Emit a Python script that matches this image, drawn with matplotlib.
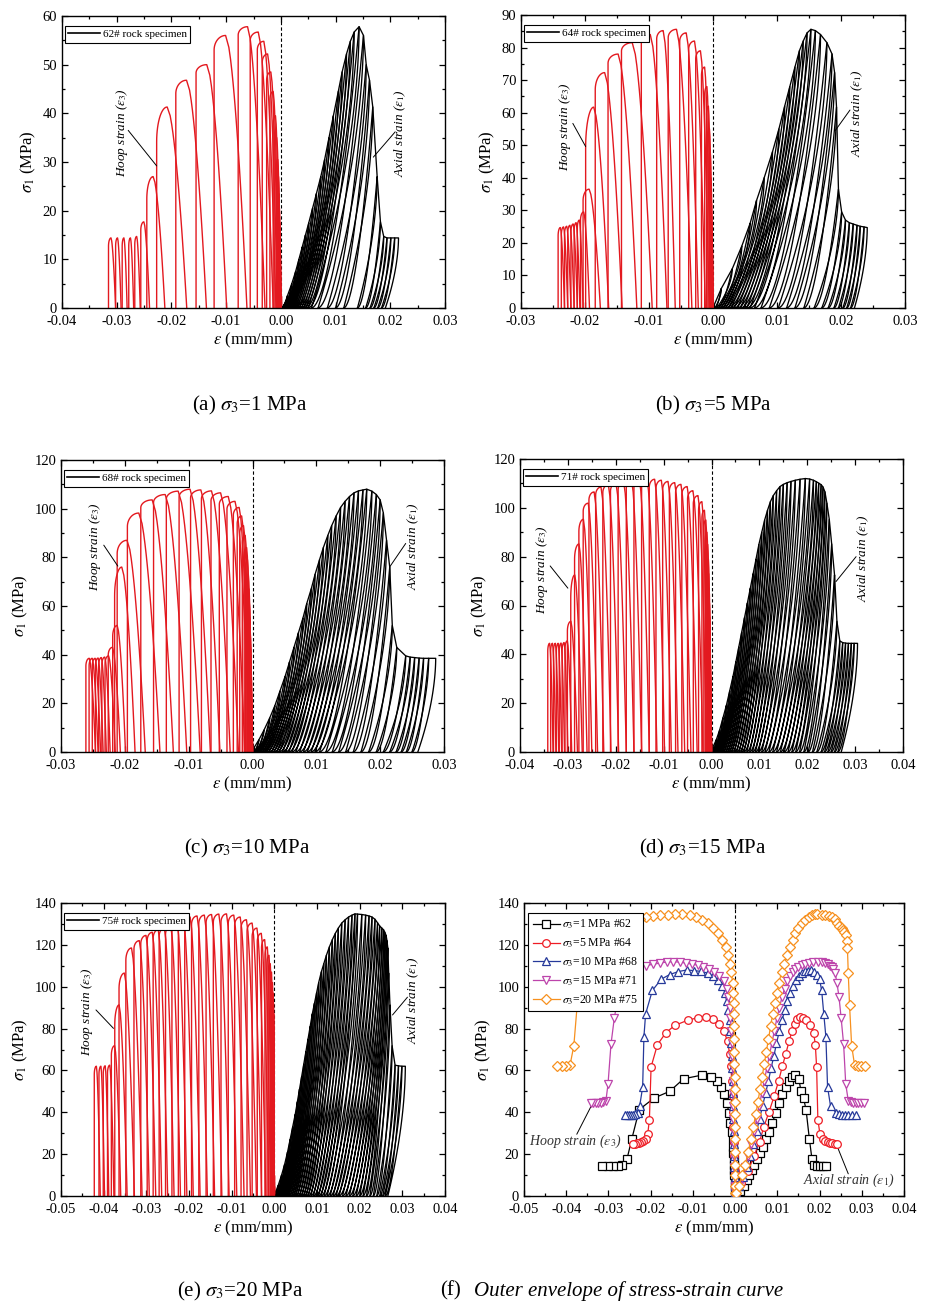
import numpy as np
import matplotlib
matplotlib.use("Agg")
import matplotlib.pyplot as plt
from matplotlib.ticker import MultipleLocator, FuncFormatter, AutoMinorLocator
from matplotlib.lines import Line2D

plt.rcParams.update({
    "font.family": ["Liberation Serif", "DejaVu Serif"],
    "mathtext.fontset": "stix",
    "axes.unicode_minus": False,
    "axes.linewidth": 1.0,
})

# ---------------- data (per loading cycle, in time order) ----------------
# S = peak stress of cycle (MPa), H = hoop strain at cycle, HR = hoop strain after unloading,
# A = axial strain at cycle, AR = axial residual strain after unloading
S62 = [2.5, 5, 7.5, 10, 12.5, 15, 17.5, 20.5, 23.5, 27, 30.5, 35, 39.5, 44.5, 48.5, 52.2, 54.8, 56.7,
       57.8, 56.0, 50.0, 46.8, 41.3, 27.0, 17.7, 14.7, 14.4, 14.4, 14.4, 14.4]
H62 = [0.0, -0.0001, -0.0001, -0.0002, -0.0002, -0.0003, -0.0003, -0.0004, -0.0005, -0.0006, -0.0008,
       -0.0011, -0.0014, -0.0020, -0.0026, -0.0034, -0.0043, -0.0056, -0.0078, -0.0122, -0.0155, -0.0192,
       -0.0227, -0.0245, -0.0256, -0.0267, -0.0278, -0.0290, -0.0302, -0.0315]
HR62 = [0.0, 0.0, 0.0, 0.0, 0.0, 0.0, 0.0, 0.0, -0.0001, -0.0001, -0.0001, -0.0001, -0.0002, -0.0003,
        -0.0004, -0.0006, -0.0009, -0.0014, -0.0029, -0.0062, -0.0099, -0.0136, -0.0172, -0.0212,
        -0.0240, -0.0257, -0.0269, -0.0281, -0.0292, -0.0302]
A62 = [0.0012, 0.0020, 0.0027, 0.0033, 0.0039, 0.0045, 0.0051, 0.0058, 0.0065, 0.0073, 0.0080, 0.0088,
       0.0096, 0.0105, 0.0112, 0.0120, 0.0127, 0.0134, 0.0143, 0.0151, 0.0156, 0.0162, 0.0168, 0.0176,
       0.0182, 0.0188, 0.0194, 0.0201, 0.0208, 0.0215]
AR62 = [0.0002, 0.0004, 0.0006, 0.0008, 0.0010, 0.0012, 0.0014, 0.0016, 0.0018, 0.0021, 0.0024, 0.0027,
        0.0030, 0.0034, 0.0038, 0.0042, 0.0046, 0.0050, 0.0056, 0.0068, 0.0085, 0.0100, 0.0115, 0.0140,
        0.0155, 0.0163, 0.0170, 0.0177, 0.0184, 0.0191]

S64 = [1, 6, 12, 19, 26, 33, 40, 48, 55, 62, 68, 74, 79, 82, 84.5, 85.6, 85.2, 84.0, 81.5, 78.0, 72.3,
       61.7, 36.5, 29.5, 27.0, 26.2, 25.8, 25.4, 25.1, 24.9, 24.7]
H64 = [0.0, -0.0001, -0.0001, -0.0002, -0.0003, -0.0004, -0.0005, -0.0006, -0.0008, -0.0010, -0.0013,
       -0.0018, -0.0027, -0.0038, -0.0052, -0.0070, -0.0088, -0.0112, -0.0143, -0.0164, -0.0184, -0.0199,
       -0.0203, -0.0207, -0.0212, -0.0217, -0.0222, -0.0227, -0.0232, -0.0237, -0.0242]
HR64 = [0.0, 0.0, 0.0, 0.0, 0.0, 0.0, 0.0, -0.0001, -0.0001, -0.0002, -0.0003, -0.0004, -0.0006, -0.0012,
        -0.0023, -0.0033, -0.0059, -0.0072, -0.0095, -0.0119, -0.0142, -0.0163, -0.0176, -0.0193,
        -0.0203, -0.0208, -0.0212, -0.0217, -0.0222, -0.0227, -0.0232]
A64 = [0.0002, 0.0013, 0.0030, 0.0045, 0.0058, 0.0068, 0.0080, 0.0093, 0.0103, 0.0112, 0.0120, 0.0128,
       0.0135, 0.0141, 0.0147, 0.0153, 0.0160, 0.0168, 0.0178, 0.0186, 0.0190, 0.0193, 0.0196, 0.0201,
       0.0207, 0.0213, 0.0219, 0.0225, 0.0230, 0.0236, 0.0241]
AR64 = [0.0001, 0.0003, 0.0006, 0.0009, 0.0012, 0.0016, 0.0020, 0.0024, 0.0028, 0.0033, 0.0038, 0.0043,
        0.0048, 0.0053, 0.0058, 0.0065, 0.0075, 0.0088, 0.0102, 0.0115, 0.0128, 0.0142, 0.0158, 0.0170,
        0.0180, 0.0189, 0.0196, 0.0203, 0.0209, 0.0215, 0.0221]

S68 = [2, 5, 9, 14, 19, 25, 31, 37, 43, 49, 55, 61, 67, 73, 79, 84, 89, 93, 97, 100.5, 103, 105, 106.5,
       107.3, 107.7, 108.0, 107.2, 105.8, 103.6, 98.2, 87.0, 76.0, 52.0, 43.0, 39.5, 39.0, 38.8, 38.6,
       38.5, 38.5, 38.5]
H68 = [0.0, -0.0001, -0.0001, -0.0002, -0.0002, -0.0003, -0.0003, -0.0004, -0.0004, -0.0005, -0.0006,
       -0.0007, -0.0008, -0.0009, -0.0011, -0.0013, -0.0016, -0.0020, -0.0024, -0.0030, -0.0040, -0.0052,
       -0.0065, -0.0080, -0.0097, -0.0115, -0.0135, -0.0155, -0.0175, -0.0196, -0.0212, -0.0216, -0.0219,
       -0.0226, -0.0231, -0.0236, -0.0241, -0.0246, -0.0251, -0.0256, -0.0261]
HR68 = [0.0, 0.0, 0.0, 0.0, 0.0, 0.0, 0.0, 0.0, -0.0001, -0.0001, -0.0001, -0.0001, -0.0001, -0.0002,
        -0.0002, -0.0002, -0.0003, -0.0003, -0.0004, -0.0004, -0.0004, -0.0012, -0.0022, -0.0035,
        -0.0051, -0.0066, -0.0082, -0.0103, -0.0124, -0.0145, -0.0168, -0.0184, -0.0199, -0.0207,
        -0.0215, -0.0223, -0.0229, -0.0234, -0.0238, -0.0242, -0.0246]
A68 = [0.0003, 0.0010, 0.0018, 0.0027, 0.0035, 0.0043, 0.0051, 0.0058, 0.0065, 0.0072, 0.0079, 0.0085,
       0.0092, 0.0098, 0.0105, 0.0111, 0.0118, 0.0124, 0.0131, 0.0138, 0.0145, 0.0152, 0.0159, 0.0166,
       0.0173, 0.0179, 0.0187, 0.0194, 0.0200, 0.0205, 0.0210, 0.0215, 0.0219, 0.0226, 0.0240, 0.0247,
       0.0254, 0.0261, 0.0268, 0.0276, 0.0287]
AR68 = [0.0001, 0.0002, 0.0004, 0.0006, 0.0008, 0.0010, 0.0013, 0.0016, 0.0019, 0.0022, 0.0026, 0.0030,
        0.0034, 0.0038, 0.0042, 0.0047, 0.0052, 0.0057, 0.0062, 0.0068, 0.0074, 0.0080, 0.0086, 0.0092,
        0.0098, 0.0105, 0.0115, 0.0125, 0.0135, 0.0146, 0.0158, 0.0170, 0.0182, 0.0194, 0.0205, 0.0215,
        0.0225, 0.0233, 0.0241, 0.0250, 0.0259]

S71 = [2, 5, 9, 14, 19, 25, 31, 37, 43, 49, 55, 61, 67, 73, 79, 85, 90, 95, 99, 102.5, 105, 107, 108.7,
       109.6, 110.3, 110.8, 111.3, 111.7, 112.0, 111.8, 111.3, 110.7, 110.1, 109.5, 108.5, 106.5, 101.9,
       95.3, 85.2, 72.5, 53.5, 45.5, 44.8, 44.6, 44.5, 44.5, 44.5, 44.5]
H71 = [0.0, -0.0001, -0.0001, -0.0002, -0.0002, -0.0003, -0.0003, -0.0004, -0.0004, -0.0005, -0.0005,
       -0.0006, -0.0007, -0.0008, -0.0009, -0.0011, -0.0013, -0.0016, -0.0020, -0.0027, -0.0038, -0.0050,
       -0.0062, -0.0075, -0.0088, -0.0102, -0.0116, -0.0130, -0.0146, -0.0162, -0.0178, -0.0195, -0.0211,
       -0.0227, -0.0242, -0.0256, -0.0268, -0.0277, -0.0286, -0.0294, -0.0301, -0.0306, -0.0312, -0.0318,
       -0.0324, -0.0330, -0.0336, -0.0342]
HR71 = [0.0, 0.0, 0.0, 0.0, 0.0, 0.0, 0.0, 0.0, -0.0001, -0.0001, -0.0001, -0.0001, -0.0001, -0.0002,
        -0.0002, -0.0002, -0.0003, -0.0004, -0.0005, -0.0007, -0.0010, -0.0018, -0.0030, -0.0043,
        -0.0056, -0.0070, -0.0084, -0.0098, -0.0114, -0.0130, -0.0146, -0.0162, -0.0178, -0.0194,
        -0.0210, -0.0225, -0.0238, -0.0250, -0.0260, -0.0270, -0.0280, -0.0292, -0.0300, -0.0307,
        -0.0313, -0.0319, -0.0325, -0.0331]
A71 = [0.0003, 0.0010, 0.0017, 0.0024, 0.0031, 0.0038, 0.0045, 0.0051, 0.0057, 0.0063, 0.0069, 0.0075,
       0.0081, 0.0087, 0.0093, 0.0099, 0.0105, 0.0111, 0.0117, 0.0123, 0.0129, 0.0136, 0.0143, 0.0150,
       0.0158, 0.0166, 0.0175, 0.0185, 0.0196, 0.0205, 0.0213, 0.0219, 0.0224, 0.0229, 0.0233, 0.0237,
       0.0241, 0.0246, 0.0251, 0.0257, 0.0262, 0.0268, 0.0274, 0.0280, 0.0286, 0.0292, 0.0298, 0.0305]
AR71 = [0.0001, 0.0002, 0.0003, 0.0005, 0.0007, 0.0009, 0.0011, 0.0014, 0.0017, 0.0020, 0.0023, 0.0027,
        0.0031, 0.0035, 0.0039, 0.0043, 0.0048, 0.0053, 0.0058, 0.0063, 0.0068, 0.0074, 0.0080, 0.0086,
        0.0092, 0.0098, 0.0105, 0.0112, 0.0120, 0.0128, 0.0136, 0.0144, 0.0152, 0.0160, 0.0168, 0.0176,
        0.0184, 0.0193, 0.0202, 0.0211, 0.0220, 0.0229, 0.0236, 0.0243, 0.0250, 0.0257, 0.0264, 0.0271]

S75 = [1.5, 5, 10, 15, 21, 27, 33, 39, 45, 51, 57, 63, 69, 75, 81, 87, 92, 97, 102, 107, 111, 115, 119,
       122.5, 125.5, 128, 130.4, 132, 133.3, 134.2, 134.8, 134.7, 134.5, 134.2, 133.8, 133.3, 132.2,
       130.5, 129.0, 128.0, 127.2, 126.0, 124.5, 122.0, 118.5, 106.5, 91.3, 71.8, 62.5, 62.2, 62.0, 62.0]
H75 = [0.0, 0.0, 0.0, -0.0001, -0.0001, -0.0001, -0.0001, -0.0001, -0.0001, -0.0001, -0.0001, -0.0002,
       -0.0002, -0.0002, -0.0002, -0.0002, -0.0003, -0.0004, -0.0006, -0.0009, -0.0013, -0.0017, -0.0022,
       -0.0030, -0.0040, -0.0052, -0.0064, -0.0078, -0.0093, -0.0108, -0.0125, -0.0143, -0.0160, -0.0177,
       -0.0194, -0.0210, -0.0225, -0.0240, -0.0255, -0.0270, -0.0284, -0.0298, -0.0313, -0.0329, -0.0348,
       -0.0364, -0.0374, -0.0382, -0.0391, -0.0401, -0.0411, -0.0422]
HR75 = [0.0, 0.0, 0.0, 0.0, 0.0, 0.0, 0.0, 0.0, 0.0, 0.0, 0.0, 0.0, 0.0, 0.0, 0.0, 0.0, 0.0, 0.0,
        -0.0001, -0.0002, -0.0003, -0.0004, -0.0006, -0.0009, -0.0013, -0.0020, -0.0030, -0.0042,
        -0.0056, -0.0071, -0.0088, -0.0106, -0.0123, -0.0140, -0.0157, -0.0174, -0.0190, -0.0205,
        -0.0220, -0.0235, -0.0250, -0.0264, -0.0278, -0.0293, -0.0310, -0.0328, -0.0345, -0.0360,
        -0.0376, -0.0388, -0.0398, -0.0408]
A75 = [0.0002, 0.0009, 0.0017, 0.0024, 0.0031, 0.0037, 0.0043, 0.0049, 0.0054, 0.0059, 0.0064, 0.0069,
       0.0074, 0.0079, 0.0084, 0.0089, 0.0094, 0.0099, 0.0104, 0.0110, 0.0116, 0.0122, 0.0129, 0.0136,
       0.0143, 0.0150, 0.0158, 0.0166, 0.0174, 0.0182, 0.0189, 0.0195, 0.0205, 0.0214, 0.0222, 0.0229,
       0.0236, 0.0242, 0.0247, 0.0252, 0.0256, 0.0259, 0.0262, 0.0264, 0.0266, 0.0268, 0.0271, 0.0276,
       0.0283, 0.0291, 0.0299, 0.0307]
AR75 = [0.0001, 0.0002, 0.0003, 0.0004, 0.0005, 0.0007, 0.0009, 0.0011, 0.0013, 0.0015, 0.0018, 0.0021,
        0.0024, 0.0027, 0.0030, 0.0034, 0.0038, 0.0042, 0.0046, 0.0050, 0.0055, 0.0060, 0.0065, 0.0070,
        0.0075, 0.0080, 0.0086, 0.0092, 0.0098, 0.0104, 0.0110, 0.0117, 0.0124, 0.0131, 0.0138, 0.0145,
        0.0152, 0.0160, 0.0168, 0.0176, 0.0184, 0.0192, 0.0200, 0.0208, 0.0216, 0.0224, 0.0232, 0.0240,
        0.0247, 0.0254, 0.0260, 0.0266]

specimens = ["62", "64", "68", "71", "75"]
sigma3 = [1, 5, 10, 15, 20]
panel_letters = ["a", "b", "c", "d", "e"]

RED = "#e3191f"
ENV_COLORS = ["#000000", "#ee1c24", "#26399a", "#bd44ab", "#f7901e"]
ENV_MARKERS = ["s", "o", "^", "v", "D"]

W, Hpx = 930, 1304
fig = plt.figure(figsize=(W / 100, Hpx / 100), dpi=100)


def add_ax(x0, y0, x1, y1):
    return fig.add_axes([x0 / W, 1 - y1 / Hpx, (x1 - x0) / W, (y1 - y0) / Hpx])


def fmt_x(v, _):
    return "0.00" if abs(v) < 1e-9 else "%.2f" % v


def style_axes(ax, xlim, xstep, ylim, ystep):
    ax.set_xlim(*xlim)
    ax.set_ylim(*ylim)
    ax.xaxis.set_major_locator(MultipleLocator(xstep))
    ax.xaxis.set_minor_locator(AutoMinorLocator(2))
    ax.yaxis.set_major_locator(MultipleLocator(ystep))
    ax.yaxis.set_minor_locator(AutoMinorLocator(2))
    ax.xaxis.set_major_formatter(FuncFormatter(fmt_x))
    ax.tick_params(which="both", direction="in", top=True, right=True, labelsize=10.5, width=0.9)
    ax.tick_params(which="major", length=4.5)
    ax.tick_params(which="minor", length=2.5)
    ax.tick_params(axis="x", pad=5)
    ax.set_xlabel(r"$\varepsilon$ (mm/mm)", fontsize=12, labelpad=2)
    ax.set_ylabel(r"$\sigma_1$ (MPa)", fontsize=12, labelpad=3)
    ax.axvline(0, color="k", lw=0.8, ls=(0, (3, 2)), zorder=1)


def hoop_arch(H, HR, S, Snext, Smax, f=0.35):
    J = min(0.5 * (S + Snext), S - 0.03 * Smax)
    J = max(J, 0.0)
    P = H + f * (HR - H)
    th = np.linspace(0, np.pi / 2, 16)
    yy = np.linspace(S, 0, 24)
    x = np.concatenate([[H, H], H + (P - H) * (1 - np.cos(th)), P + (HR - P) * (1 - yy / S) ** 0.6])
    y = np.concatenate([[0, J], J + (S - J) * np.sin(th), yy])
    return x, y


def reload_curve(x0, A, S, p=1.8):
    t = np.linspace(0, 1, 30)
    return x0 + (A - x0) * t, S * t ** p


def unload_curve(A, S, AR, m=1.8):
    v = np.linspace(0, 1, 30)
    return A - (A - AR) * v ** m, S * (1 - v)


data = {
    "62": (S62, H62, HR62, A62, AR62),
    "64": (S64, H64, HR64, A64, AR64),
    "68": (S68, H68, HR68, A68, AR68),
    "71": (S71, H71, HR71, A71, AR71),
    "75": (S75, H75, HR75, A75, AR75),
}

boxes = [(62, 16, 445, 308), (521, 15, 905, 308), (61, 460, 444, 752),
         (520, 459, 903, 752), (61, 903, 445, 1196)]
limits = [((-0.04, 0.03), 60, 10), ((-0.03, 0.03), 90, 10), ((-0.03, 0.03), 120, 20),
          ((-0.04, 0.04), 120, 20), ((-0.05, 0.04), 140, 20)]
# annotation placement: (hoop text xy, hoop leader from, to, axial text xy, axial leader from, to)
annots = [
    ((-0.0290, 36), (-0.0279, 36.5), (-0.0227, 29.2), (0.0218, 36), (0.0209, 36.2), (0.0169, 31.0)),
    ((-0.0231, 55.7), (-0.0219, 56.7), (-0.0199, 49.6), (0.0226, 59.8), (0.0214, 60.8), (0.0191, 54.5)),
    ((-0.0246, 84.4), (-0.0233, 85.0), (-0.0211, 76.4), (0.0252, 84.6), (0.0240, 85.7), (0.0215, 76.1)),
    ((-0.0355, 74.6), (-0.0337, 76.2), (-0.0300, 67.1), (0.0318, 79.4), (0.0302, 80.0), (0.0260, 69.8)),
    ((-0.0440, 88.1), (-0.0418, 88.9), (-0.0377, 80.1), (0.0326, 93.7), (0.0312, 95.0), (0.0277, 86.5)),
]

for i, sp in enumerate(specimens):
    ax = add_ax(*boxes[i])
    (xl, ymax, ystep) = limits[i]
    style_axes(ax, xl, 0.01, (0, ymax), ystep)
    S, H, HR, A, AR = data[sp]
    n = len(S)
    Smax = max(S)
    for k in range(n):
        Snext = S[k + 1] if k + 1 < n else S[k]
        hx, hy = hoop_arch(H[k], HR[k], S[k], Snext, Smax)
        ax.plot(hx, hy, color=RED, lw=1.0, zorder=2)
        # axial: reload to previous peak, follow envelope to this peak, unload
        if k == 0:
            rx, ry = reload_curve(0.0, A[0], S[0])
        else:
            rx, ry = reload_curve(AR[k - 1], A[k - 1], S[k - 1])
            rx = np.append(rx, A[k])
            ry = np.append(ry, S[k])
        ux, uy = unload_curve(A[k], S[k], AR[k])
        ax.plot(np.concatenate([rx, ux]), np.concatenate([ry, uy]), color="k", lw=0.95, zorder=2)
    leg = ax.legend(handles=[Line2D([], [], color="k", lw=1.2)], labels=[sp + "# rock specimen"],
                    loc="upper left", bbox_to_anchor=(0.008, 0.965), borderaxespad=0, fontsize=8,
                    fancybox=False, edgecolor="k", framealpha=1, handlelength=2.8, handletextpad=0.3,
                    borderpad=0.3)
    leg.get_frame().set_linewidth(0.8)
    ht, hf, hto, at, af, ato = annots[i]
    ax.text(*ht, r"Hoop strain ($\varepsilon_3$)", rotation=90, ha="center", va="center",
            fontsize=9.5, style="italic")
    ax.annotate("", xy=hto, xytext=hf, arrowprops=dict(arrowstyle="-", lw=0.7, color="k",
                                                       shrinkA=0, shrinkB=0))
    ax.text(*at, r"Axial strain ($\varepsilon_1$)", rotation=90, ha="center", va="center",
            fontsize=9.5, style="italic")
    ax.annotate("", xy=ato, xytext=af, arrowprops=dict(arrowstyle="-", lw=0.7, color="k",
                                                       shrinkA=0, shrinkB=0))

# ---------------- panel f: outer envelopes ----------------
axf = add_ax(524, 903, 904, 1196)
style_axes(axf, (-0.05, 0.04), 0.01, (0, 140), 20)
handles = []
for i, sp in enumerate(specimens):
    S, H, HR, A, AR = data[sp]
    kw = dict(color=ENV_COLORS[i], marker=ENV_MARKERS[i], mfc="white", mec=ENV_COLORS[i],
              ms=5.5 if ENV_MARKERS[i] != "D" else 4.8, mew=0.9, lw=0.9, zorder=3 + i)
    h, = axf.plot(H, S, **kw)
    axf.plot(A, S, **kw)
    handles.append(h)
labels = [r"$\sigma_3$=%d MPa #%s" % (s3, sp) for s3, sp in zip(sigma3, specimens)]
legf = axf.legend(handles, labels, loc="upper left", bbox_to_anchor=(0.01, 0.965), borderaxespad=0,
                  fontsize=8.5, fancybox=False, edgecolor="k", framealpha=1, handlelength=2.3,
                  handletextpad=0.2, labelspacing=0.45, borderpad=0.4)
legf.get_frame().set_linewidth(0.8)
legf.set_zorder(20)
axf.text(-0.0378, 26.2, r"Hoop strain ($\varepsilon_3$)", ha="center", va="center", fontsize=10,
         style="italic", color="#333333")
axf.annotate("", xy=(-0.0337, 44.5), xytext=(-0.0375, 29.5),
             arrowprops=dict(arrowstyle="-", lw=0.7, color="k", shrinkA=0, shrinkB=0))
axf.text(0.0269, 7.5, r"Axial strain ($\varepsilon_1$)", ha="center", va="center", fontsize=10,
         style="italic", color="#333333")
axf.annotate("", xy=(0.0240, 24.6), xytext=(0.0268, 10.6),
             arrowprops=dict(arrowstyle="-", lw=0.7, color="k", shrinkA=0, shrinkB=0))

# ---------------- captions ----------------
caps = [(250, 405), (713, 405), (247, 848), (703, 848), (240, 1291)]
for (cx, cy), letter, s3 in zip(caps, panel_letters, sigma3):
    fig.text(cx / W, 1 - cy / Hpx, r"(%s) $\sigma_3$=%d MPa" % (letter, s3), ha="center",
             va="center", fontsize=15)
fig.text(440 / W, 1 - 1291 / Hpx, "(f)", ha="left", va="center", fontsize=15)
fig.text(474 / W, 1 - 1291 / Hpx, "Outer envelope of stress-strain curve", ha="left", va="center",
         fontsize=15, style="italic")

fig.savefig("out.png", dpi=100)
